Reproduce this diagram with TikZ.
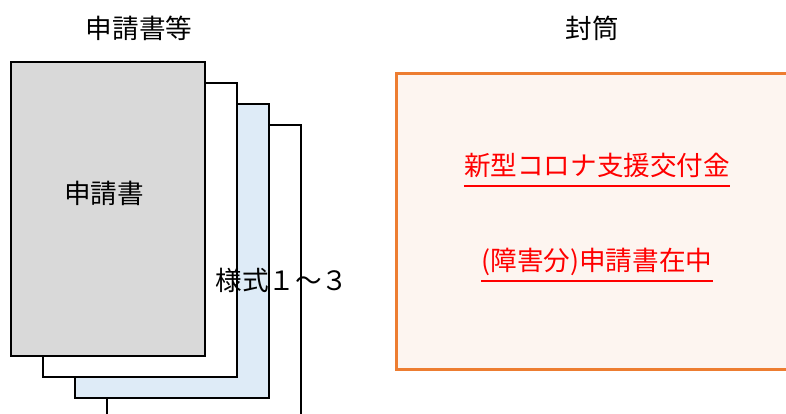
\documentclass[tikz,border=0pt]{standalone}
\usepackage{fontspec}
\setmainfont{Noto Sans CJK JP}
\usepackage{xcolor}
\usepackage{tikz}
\usetikzlibrary{positioning}
\definecolor{sheetGray}{HTML}{D9D9D9}
\definecolor{sheetBlue}{HTML}{DEEBF7}
\definecolor{envLine}{HTML}{ED7D31}
\definecolor{envFill}{HTML}{FDF5F0}
\definecolor{alert}{HTML}{FF0000}
\tikzset{
  sheet/.style={draw=black, line width=2.6pt},
  envBox/.style={draw=envLine, fill=envFill, line width=3pt},
  capLabel/.style={text=black, inner sep=0pt, font=\fontsize{26.6}{30}\selectfont},
  envText/.style={text=alert, inner sep=0pt, font=\fontsize{26.6}{30}\selectfont},
  underLine/.style={draw=alert, line width=2.6pt}
}

\begin{document}
\begin{tikzpicture}[x=1pt, y=-1pt]
  \useasboundingbox (0,0) rectangle (786,414);
  \clip (0,0) rectangle (786,414);

  % stacked forms
  \draw[sheet, fill=white] (107,125) rectangle (301,430);
  \draw[sheet, fill=sheetBlue] (75,104) rectangle (269,398);
  \draw[sheet, fill=white] (43,83) rectangle (237,377);
  \draw[sheet, fill=sheetGray] (11,62) rectangle (205,356);

  \node[capLabel] (form) at (104,193) {申請書};
  \node[capLabel] (forms) at (282,280) {様式１～３};
  \node[capLabel] (docsTitle) at (139,28) {申請書等};

  % envelope
  \draw[envBox] (396,74) rectangle (800,369);
  \node[capLabel] (envTitle) at (592,28) {封筒};

  \node[envText] (line1) at (597,165) {新型コロナ支援交付金};
  \node[envText] (line2) at (597,262) {(障害分)申請書在中};
  \draw[underLine] ([yshift=-21pt]line1.west) -- ([yshift=-21pt]line1.east);
  \draw[underLine] ([yshift=-19pt]line2.west) -- ([yshift=-19pt]line2.east);
\end{tikzpicture}
\end{document}
